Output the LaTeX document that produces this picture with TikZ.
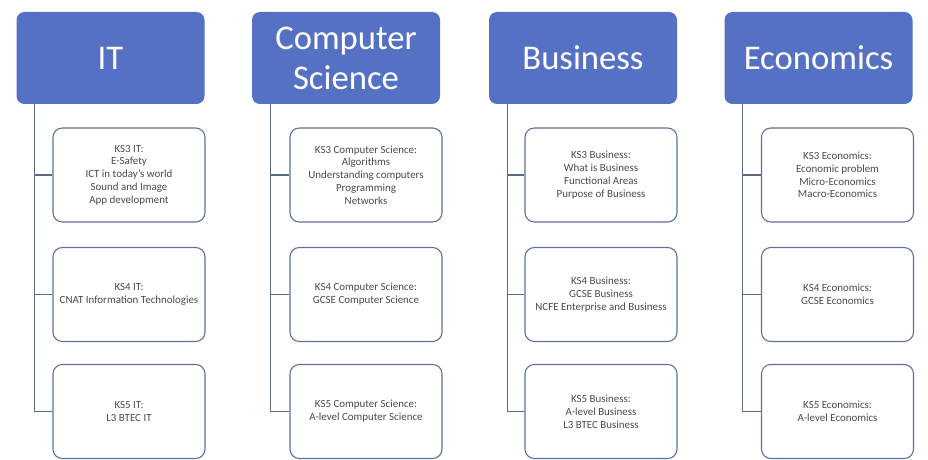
\documentclass[tikz,border=0pt]{standalone}
\usepackage{fontspec}
\setmainfont{Carlito}
\usepackage{tikz}
\usetikzlibrary{positioning, calc}
\definecolor{hblue}{HTML}{5571C3}
\definecolor{hedge}{HTML}{5E709C}
\definecolor{lgray}{HTML}{5C6A8A}
\definecolor{tgray}{HTML}{4A4A4A}
\tikzset{
  subj/.style={
    fill=hblue, draw=none, rounded corners=6pt, text=white, align=center,
    minimum width=141pt, minimum height=69pt, inner sep=2pt,
    font=\fontsize{26}{30}\selectfont
  },
  topic/.style={
    draw=hedge, fill=white, line width=0.8pt, rounded corners=7pt,
    align=center, text=tgray, minimum width=114pt, minimum height=70.5pt,
    font=\fontsize{8.2}{9.6}\selectfont
  },
  link/.style={draw=lgray, line width=0.9pt}
}

\begin{document}
\begin{tikzpicture}[x=0.75pt, y=-0.75pt]
  \useasboundingbox (0,0) rectangle (928,460);

  % subject headers
  \node[subj] (it)  at (110.5,58) {IT};
  \node[subj] (cs)  at (346,58)   {Computer\\Science};
  \node[subj] (bus) at (583,58)   {Business};
  \node[subj] (eco) at (818.5,58) {Economics};

  % IT
  \node[topic] (it1) at (129,175)   {KS3 IT:\\E-Safety\\ICT in today's world\\Sound and Image\\App development};
  \node[topic] (it2) at (129,294.5) {KS4 IT:\\CNAT Information Technologies};
  \node[topic] (it3) at (129,411.5) {KS5 IT:\\L3 BTEC IT};

  % Computer Science
  \node[topic] (cs1) at (366,175)   {KS3 Computer Science:\\Algorithms\\Understanding computers\\Programming\\Networks};
  \node[topic] (cs2) at (366,294.5) {KS4 Computer Science:\\GCSE Computer Science};
  \node[topic] (cs3) at (366,411.5) {KS5 Computer Science:\\A-level Computer Science};

  % Business
  \node[topic] (bus1) at (601,175)   {KS3 Business:\\What is Business\\Functional Areas\\Purpose of Business};
  \node[topic] (bus2) at (601,294.5) {KS4 Business:\\GCSE Business\\NCFE Enterprise and Business};
  \node[topic] (bus3) at (601,411.5) {KS5 Business:\\A-level Business\\L3 BTEC Business};

  % Economics
  \node[topic] (eco1) at (837.5,175)   {KS3 Economics:\\Economic problem\\Micro-Economics\\Macro-Economics};
  \node[topic] (eco2) at (837.5,294.5) {KS4 Economics:\\GCSE Economics};
  \node[topic] (eco3) at (837.5,411.5) {KS5 Economics:\\A-level Economics};

  % connectors
  \foreach \c in {it,cs,bus,eco}
    \foreach \k in {1,2,3}
      \draw[link] (\c.south west) ++(18.5,0) |- (\c\k.west);
\end{tikzpicture}
\end{document}
